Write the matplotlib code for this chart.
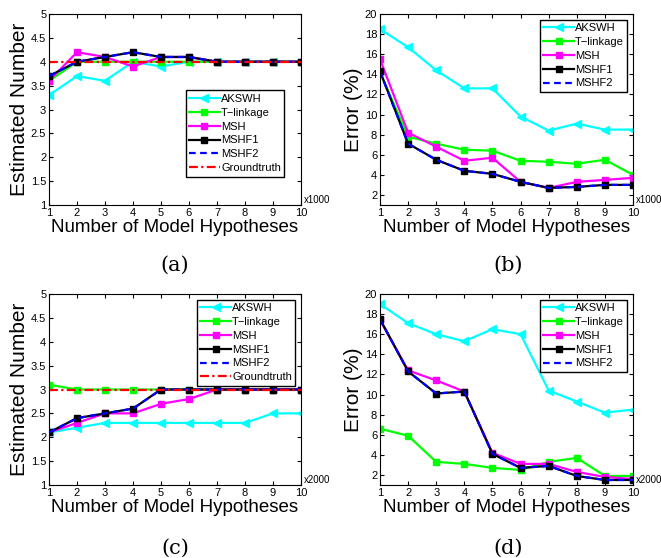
import matplotlib
matplotlib.use("Agg")
import matplotlib.pyplot as plt
import numpy as np

plt.rcParams['font.family'] = ['Liberation Sans', 'DejaVu Sans']

x = np.arange(1, 11)

# (a) estimated number, x1000 hypotheses
a_akswh = [3.3, 3.7, 3.6, 4.0, 3.9, 4.0, 4.0, 4.0, 4.0, 4.0]
a_tlink = [3.6, 4.0, 4.0, 4.0, 4.0, 4.0, 4.0, 4.0, 4.0, 4.0]
a_msh = [3.6, 4.2, 4.1, 3.9, 4.1, 4.1, 4.0, 4.0, 4.0, 4.0]
a_mshf1 = [3.7, 4.0, 4.1, 4.2, 4.1, 4.1, 4.0, 4.0, 4.0, 4.0]
a_mshf2 = [3.7, 4.0, 4.1, 4.2, 4.1, 4.1, 4.0, 4.0, 4.0, 4.0]
a_gt = [4, 4, 4, 4, 4, 4, 4, 4, 4, 4]

# (b) error, x1000 hypotheses
b_akswh = [18.5, 16.7, 14.4, 12.6, 12.6, 9.8, 8.4, 9.1, 8.5, 8.5]
b_tlink = [14.2, 7.8, 7.1, 6.5, 6.4, 5.4, 5.3, 5.1, 5.5, 4.0]
b_msh = [15.5, 8.2, 6.8, 5.4, 5.7, 3.3, 2.7, 3.3, 3.5, 3.7]
b_mshf1 = [14.3, 7.1, 5.5, 4.4, 4.1, 3.3, 2.7, 2.8, 3.0, 3.0]
b_mshf2 = [14.3, 7.1, 5.5, 4.4, 4.1, 3.3, 2.7, 2.8, 3.0, 3.0]

# (c) estimated number, x2000 hypotheses
c_akswh = [2.1, 2.2, 2.3, 2.3, 2.3, 2.3, 2.3, 2.3, 2.5, 2.5]
c_tlink = [3.1, 3.0, 3.0, 3.0, 3.0, 3.0, 3.0, 3.0, 3.0, 3.0]
c_msh = [2.1, 2.3, 2.5, 2.5, 2.7, 2.8, 3.0, 3.0, 3.0, 3.0]
c_mshf1 = [2.1, 2.4, 2.5, 2.6, 3.0, 3.0, 3.0, 3.0, 3.0, 3.0]
c_mshf2 = [2.1, 2.4, 2.5, 2.6, 3.0, 3.0, 3.0, 3.0, 3.0, 3.0]
c_gt = [3, 3, 3, 3, 3, 3, 3, 3, 3, 3]

# (d) error, x2000 hypotheses
d_akswh = [19.0, 17.1, 16.0, 15.3, 16.5, 16.0, 10.4, 9.3, 8.2, 8.5]
d_tlink = [6.6, 5.9, 3.3, 3.1, 2.7, 2.5, 3.3, 3.7, 1.9, 1.9]
d_msh = [17.4, 12.4, 11.4, 10.3, 4.2, 3.1, 3.1, 2.3, 1.8, 1.6]
d_mshf1 = [17.5, 12.3, 10.1, 10.3, 4.1, 2.7, 2.9, 1.9, 1.5, 1.5]
d_mshf2 = [17.5, 12.3, 10.1, 10.3, 4.1, 2.7, 2.9, 1.9, 1.5, 1.5]

W, H = 661, 558
fig = plt.figure(figsize=(W / 100, H / 100), dpi=100)


def box(l, t, r, b):
    return [l / W, 1 - b / H, (r - l) / W, (b - t) / H]


def draw(ax, akswh, tlink, msh, mshf1, mshf2, gt, scale, est):
    lw = 1.6
    ms = 4.5
    ax.plot(x, akswh, color='#00ffff', marker='<', ms=ms + 1, lw=lw, label='AKSWH')
    ax.plot(x, tlink, color='#00ff00', marker='s', ms=ms, lw=lw, label='T\u2212linkage')
    ax.plot(x, msh, color='#ff00ff', marker='s', ms=ms, lw=lw, label='MSH')
    ax.plot(x, mshf1, color='black', marker='s', ms=ms, lw=lw, label='MSHF1')
    ax.plot(x, mshf2, color='blue', ls=(0, (3, 2)), lw=lw, label='MSHF2')
    if gt is not None:
        ax.plot(x, gt, color='red', ls=(0, (4, 1.5, 1, 1.5)), lw=lw, label='Groundtruth')
    ax.set_xlim(1, 10)
    ax.set_xticks(x)
    if est:
        ax.set_ylim(1, 5)
        ax.set_yticks(np.arange(1, 5.01, 0.5))
        ax.set_yticklabels(['1', '1.5', '2', '2.5', '3', '3.5', '4', '4.5', '5'])
        ax.set_ylabel('Estimated Number', fontsize=15, labelpad=1)
    else:
        ax.set_ylim(1, 20)
        ax.set_yticks(np.arange(2, 21, 2))
        ax.set_ylabel('Error (%)', fontsize=15, labelpad=1)
    ax.set_xlabel('Number of Model Hypotheses', fontsize=13.5, labelpad=1)
    ax.tick_params(direction='in', top=True, right=True, labelsize=8, length=3, pad=2)
    ax.text(1.01, 0.0, scale, transform=ax.transAxes, fontsize=7, va='bottom', ha='left')


leg_kw = dict(fontsize=8, fancybox=False, edgecolor='black', framealpha=1,
              handlelength=2.8, handletextpad=0.1, labelspacing=0.35, borderpad=0.3)

ax_a = fig.add_axes(box(49, 14, 301, 205))
draw(ax_a, a_akswh, a_tlink, a_msh, a_mshf1, a_mshf2, a_gt, 'x1000', True)
ax_a.legend(loc='lower left', bbox_to_anchor=(0.52, 0.12), **leg_kw)

ax_b = fig.add_axes(box(380, 14, 633, 205))
draw(ax_b, b_akswh, b_tlink, b_msh, b_mshf1, b_mshf2, None, 'x1000', False)
ax_b.legend(loc='upper right', **leg_kw)

ax_c = fig.add_axes(box(49, 294, 301, 485))
draw(ax_c, c_akswh, c_tlink, c_msh, c_mshf1, c_mshf2, c_gt, 'x2000', True)
ax_c.legend(loc='upper right', **leg_kw)

ax_d = fig.add_axes(box(380, 294, 633, 485))
draw(ax_d, d_akswh, d_tlink, d_msh, d_mshf1, d_mshf2, None, 'x2000', False)
ax_d.legend(loc='upper right', **leg_kw)

for lab, cx, cy in [('(a)', 175, 265), ('(b)', 508, 265), ('(c)', 175, 548), ('(d)', 508, 548)]:
    fig.text(cx / W, 1 - cy / H, lab, fontsize=15, ha='center', va='center',
             family=['DejaVu Serif'])

fig.savefig('out.png', dpi=100)
